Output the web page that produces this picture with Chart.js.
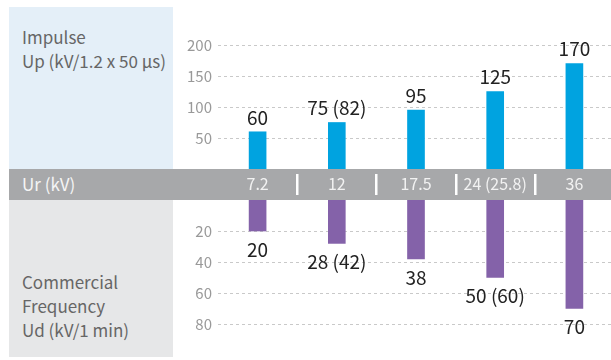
<!DOCTYPE html>
<html>
<head>
<meta charset="utf-8">
<script src="https://cdn.jsdelivr.net/npm/chart.js@4"></script>
<style>
  html, body { margin: 0; padding: 0; background: #fff; overflow: hidden; }
  body { width: 611px; height: 360px; position: relative; font-family: "Noto Sans CJK KR", "Noto Sans", sans-serif; }
  .panel { position: absolute; left: 9px; width: 164px; color: #666; font-size: 17px; line-height: 24px; }
  #panelTop { top: 7px; height: 162px; background: #e4eff8; }
  #panelBottom { top: 200px; height: 157px; background: #e6e7e8; }
  #panelTop .txt { position: absolute; left: 13px; top: 18px; }
  #panelBottom .txt { position: absolute; left: 13px; top: 70px; }
  #band { position: absolute; left: 9px; top: 169px; width: 610px; height: 31px; background: #a7a8aa; }
  #band span { position: absolute; left: 13px; top: -1px; line-height: 31px; font-size: 17px; color: #f5f5f5; }
  .wrap { position: absolute; left: 0; width: 616px; }
  #topWrap { top: 0; height: 200px; }
  #bottomWrap { top: 200px; height: 160px; }
</style>
</head>
<body>
<div class="panel" id="panelTop"><div class="txt">Impulse<br>Up (kV/1.2 x 50 μs)</div></div>
<div class="panel" id="panelBottom"><div class="txt">Commercial<br>Frequency<br>Ud (kV/1 min)</div></div>
<div id="band"><span>Ur (kV)</span></div>
<div class="wrap" id="topWrap"><canvas id="upChart"></canvas></div>
<div class="wrap" id="bottomWrap"><canvas id="udChart"></canvas></div>

<script>
// rated voltage classes
const ratedVoltages = ['7.2', '12', '17.5', '24 (25.8)', '36'];

// impulse withstand voltage Up
const upValues = [60, 75, 95, 125, 170];
const upLabels = ['60', '75 (82)', '95', '125', '170'];

// power frequency withstand voltage Ud
const udValues = [20, 28, 38, 50, 70];
const udLabels = ['20', '28 (42)', '38', '50 (60)', '70'];

const FONT = '"Noto Sans CJK KR", "Noto Sans", sans-serif';

// value text above / below each bar
function valueLabels(texts, below) {
  return {
    id: 'valueLabels',
    afterDatasetsDraw(chart) {
      const ctx = chart.ctx;
      ctx.save();
      ctx.fillStyle = '#222';
      ctx.font = '19px ' + FONT;
      ctx.textAlign = 'center';
      chart.getDatasetMeta(0).data.forEach((bar, i) => {
        if (below) {
          ctx.textBaseline = 'top';
          ctx.fillText(texts[i], bar.x, bar.y + 9);
        } else {
          ctx.textBaseline = 'bottom';
          ctx.fillText(texts[i], bar.x, bar.y - 5);
        }
      });
      ctx.restore();
    }
  };
}

// white separators between the voltage classes in the band
const separators = {
  id: 'separators',
  afterDraw(chart) {
    const x = chart.scales.x;
    const ctx = chart.ctx;
    ctx.save();
    ctx.fillStyle = '#fff';
    for (let i = 1; i < ratedVoltages.length; i++) {
      const px = (x.getPixelForValue(i - 1) + x.getPixelForValue(i)) / 2;
      ctx.fillRect(Math.round(px) - 1, 174, 2.5, 21);
    }
    ctx.restore();
  }
};

const gridStyle = { color: '#c9c9c9', lineWidth: 1, drawTicks: false };

// fixed axis width, no extra room for half tick labels
function fitY(scale) {
  scale.width = 218;
  scale.paddingTop = 0;
  scale.paddingBottom = 0;
}

new Chart(document.getElementById('upChart'), {
  type: 'bar',
  data: {
    labels: ratedVoltages,
    datasets: [{ data: upValues, backgroundColor: '#00a3e0', barThickness: 17 }]
  },
  options: {
    responsive: true,
    maintainAspectRatio: false,
    animation: false,
    layout: { padding: { top: 45, right: 2, left: 0, bottom: 0 } },
    plugins: { legend: { display: false }, tooltip: { enabled: false } },
    scales: {
      x: {
        grid: { display: false },
        border: { display: false },
        ticks: { color: '#f2f2f2', font: { family: FONT, size: 16 }, padding: -3 },
        afterFit(scale) { scale.height = 31; }
      },
      y: {
        min: 0,
        max: 200,
        grid: gridStyle,
        border: { display: false, dash: [3, 3] },
        ticks: {
          stepSize: 50,
          padding: 6,
          color: '#999',
          font: { family: FONT, size: 15 },
          callback: v => (v === 0 ? null : v)
        },
        afterFit: fitY
      }
    }
  },
  plugins: [valueLabels(upLabels, false), separators]
});

new Chart(document.getElementById('udChart'), {
  type: 'bar',
  data: {
    labels: ratedVoltages,
    datasets: [{ data: udValues, backgroundColor: '#8462a9', barThickness: 17 }]
  },
  options: {
    responsive: true,
    maintainAspectRatio: false,
    animation: false,
    layout: { padding: { top: 0, right: 2, left: 0, bottom: 36 } },
    plugins: { legend: { display: false }, tooltip: { enabled: false } },
    scales: {
      x: { display: false },
      y: {
        reverse: true,
        min: 0,
        max: 80,
        grid: gridStyle,
        border: { display: false, dash: [3, 3] },
        ticks: {
          stepSize: 20,
          padding: 6,
          color: '#999',
          font: { family: FONT, size: 15 },
          callback: v => (v === 0 ? null : v)
        },
        afterFit: fitY
      }
    }
  },
  plugins: [valueLabels(udLabels, true)]
});
</script>
</body>
</html>
